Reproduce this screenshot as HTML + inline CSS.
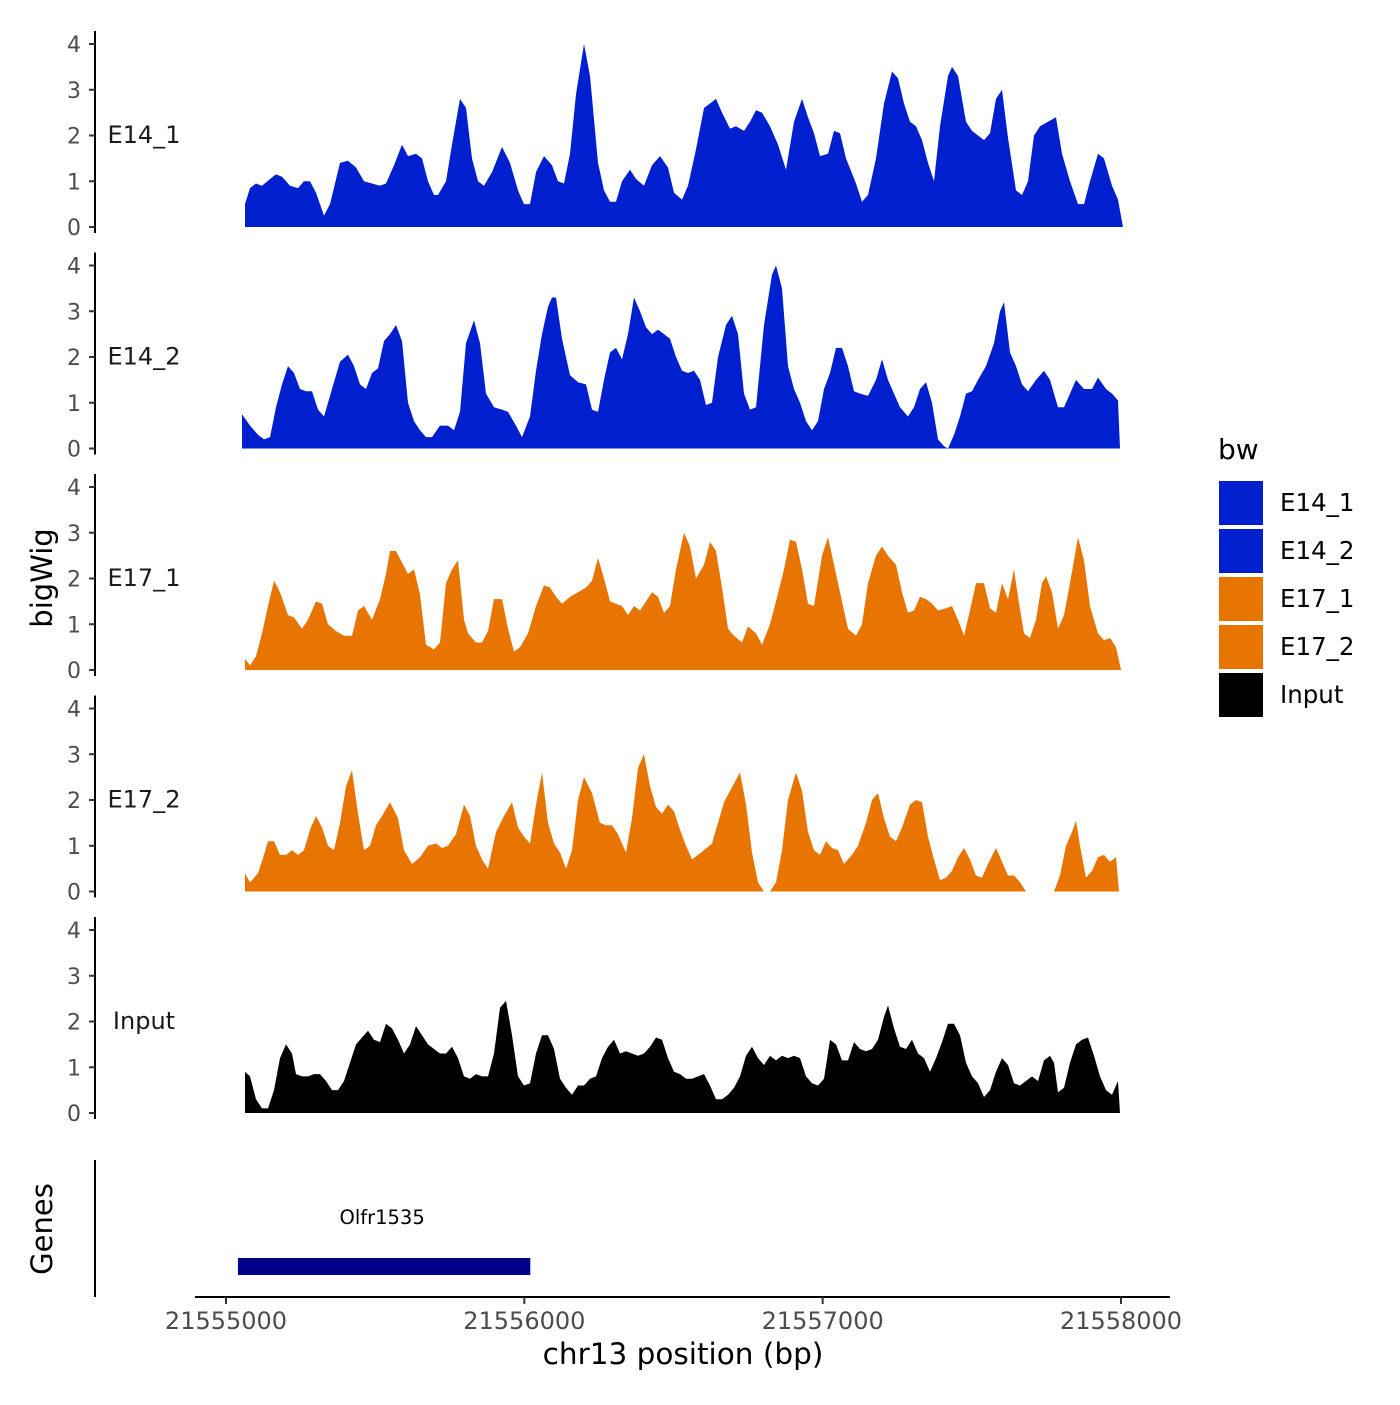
<!DOCTYPE html>
<html><head><meta charset="utf-8"><style>
html,body{margin:0;padding:0;background:#fff;}
svg text{font-family:"DejaVu Sans","Liberation Sans",sans-serif;}
</style></head><body>
<svg id="chart" width="1400" height="1400" viewBox="0 0 1400 1400" xmlns="http://www.w3.org/2000/svg">
<g id="tracks"></g>
<g id="genes">
  <line x1="95" y1="1160" x2="95" y2="1297" stroke="#000" stroke-width="2"/>
  <text transform="translate(52,1229) rotate(-90)" text-anchor="middle" font-size="29">Genes</text>
</g>
<g id="xaxis">
  <line x1="195" y1="1297" x2="1170" y2="1297" stroke="#000" stroke-width="2"/>
  <text x="683" y="1364" text-anchor="middle" font-size="29.5">chr13 position (bp)</text>
</g>
<text transform="translate(52,578) rotate(-90)" text-anchor="middle" font-size="29">bigWig</text>
<g id="legend">
  <text x="1218" y="459" font-size="28">bw</text>
</g>
</svg>
<script>
// region / scale constants
const regionStart = 21555000;
const binSize = 3000 / 895; // bp per bin
const xTickValues = [21555000, 21556000, 21557000, 21558000];
const xTickLabels = ["21555000", "21556000", "21557000", "21558000"];
const yTickValues = [0, 1, 2, 3, 4];
const yTickLabels = ["0", "1", "2", "3", "4"];
const trackNames = ["E14_1", "E14_2", "E17_1", "E17_2", "Input"];
const trackColors = ["#0020d0", "#0020d0", "#e87502", "#e87502", "#000000"];
const geneNames = ["Olfr1535"];
const geneStarts = [21555040];
const geneEnds = [21556020];

const e14_1Bins = [19,24,30,36,44,50,56,64,72,78,84,90,98,104,114,122,130,138,146,154,160,168,176,182,190,196,202,208,212,220,226,234,240,246,252,258,266,276,284,292,298,304,310,318,326,332,338,344,350,358,364,372,378,384,390,396,404,410,418,426,434,442,448,456,462,470,478,484,490,496,504,510,518,524,530,536,544,552,560,568,576,582,588,594,602,608,614,620,630,636,642,650,658,666,672,678,684,690,696,702,708,714,722,726,732,740,746,752,758,764,770,776,782,790,796,802,808,814,822,830,836,844,852,858,864,872,878,886,892,897];
const e14_1Vals = [0.5,0.85,0.95,0.9,1.05,1.15,1.1,0.9,0.85,1.0,1.0,0.75,0.25,0.5,1.4,1.45,1.3,1.0,0.95,0.9,0.95,1.35,1.8,1.55,1.6,1.5,1.0,0.7,0.7,1.0,1.8,2.8,2.6,1.5,1.0,0.9,1.2,1.75,1.4,0.8,0.5,0.5,1.2,1.55,1.35,1.0,0.95,1.6,2.9,4.0,3.3,1.4,0.8,0.55,0.55,1.0,1.25,1.05,0.9,1.35,1.55,1.3,0.75,0.6,0.9,1.7,2.6,2.7,2.8,2.5,2.15,2.2,2.1,2.3,2.55,2.5,2.2,1.8,1.25,2.3,2.8,2.4,2.05,1.55,1.6,2.1,2.05,1.5,0.95,0.55,0.7,1.5,2.7,3.4,3.25,2.7,2.3,2.2,1.9,1.4,1.0,2.2,3.3,3.5,3.3,2.3,2.1,2.0,1.9,2.05,2.8,3.0,1.95,0.8,0.7,1.0,2.0,2.2,2.3,2.4,1.6,1.0,0.5,0.5,1.0,1.6,1.5,0.9,0.6,0];

const e14_2Bins = [16,24,32,38,44,50,56,62,68,74,80,86,92,98,106,114,122,128,134,140,146,152,158,164,170,176,182,188,194,200,206,214,222,228,234,240,248,254,260,268,276,282,290,296,304,310,316,322,326,330,336,344,352,360,366,372,378,384,390,396,402,408,414,420,426,432,438,444,450,456,462,468,474,480,486,492,500,506,512,518,524,530,538,546,550,556,562,568,574,580,586,592,598,604,610,616,622,628,634,642,650,656,662,668,674,682,688,694,700,706,712,718,722,728,734,740,746,752,760,768,774,778,784,790,796,802,810,818,824,832,838,844,850,858,866,872,880,886,892,894];
const e14_2Vals = [0.75,0.5,0.3,0.2,0.25,0.9,1.4,1.8,1.65,1.3,1.25,1.25,0.85,0.7,1.3,1.9,2.05,1.8,1.4,1.3,1.65,1.75,2.35,2.5,2.7,2.35,1.0,0.6,0.4,0.25,0.25,0.5,0.5,0.4,0.8,2.3,2.8,2.3,1.2,0.9,0.85,0.8,0.5,0.25,0.7,1.7,2.5,3.1,3.3,3.3,2.4,1.6,1.45,1.4,0.85,0.8,1.5,2.1,2.2,1.95,2.5,3.3,3.0,2.65,2.5,2.6,2.5,2.4,2.0,1.7,1.65,1.7,1.5,0.95,1.0,2.0,2.7,2.9,2.5,1.2,0.85,0.9,2.7,3.8,4.0,3.5,1.8,1.3,1.0,0.6,0.4,0.6,1.3,1.65,2.2,2.2,1.8,1.25,1.2,1.15,1.5,1.95,1.5,1.2,0.9,0.7,0.9,1.3,1.45,1.0,0.2,0.05,0.0,0.3,0.7,1.2,1.25,1.5,1.8,2.3,3.0,3.2,2.1,1.8,1.4,1.25,1.5,1.7,1.5,0.9,0.9,1.2,1.5,1.3,1.3,1.55,1.3,1.2,1.05,0];

const e17_1Bins = [19,24,30,36,42,48,54,62,68,76,82,90,96,102,110,118,126,132,138,146,154,160,164,170,176,182,188,194,200,208,214,220,226,232,238,242,250,256,262,268,276,282,288,294,302,310,318,324,330,336,344,352,360,366,372,378,384,390,396,402,408,414,420,426,432,438,444,450,458,464,470,478,484,490,496,502,508,516,522,530,536,544,550,558,564,570,576,582,588,596,602,610,616,622,630,636,642,650,656,662,670,676,682,688,694,700,706,712,720,726,732,738,744,750,758,764,770,776,782,788,792,798,804,810,816,820,826,832,838,844,852,858,864,872,878,884,890,895];
const e17_1Vals = [0.25,0.1,0.3,0.8,1.4,1.95,1.7,1.2,1.15,0.9,1.1,1.5,1.45,1.0,0.85,0.75,0.75,1.3,1.4,1.1,1.55,2.1,2.6,2.6,2.35,2.1,2.2,1.65,0.55,0.45,0.6,1.9,2.2,2.4,1.1,0.8,0.6,0.6,0.85,1.55,1.55,0.9,0.4,0.5,0.8,1.4,1.85,1.8,1.6,1.45,1.6,1.7,1.8,1.95,2.45,2.0,1.5,1.45,1.4,1.2,1.4,1.3,1.5,1.7,1.6,1.25,1.4,2.2,3.0,2.7,2.0,2.3,2.8,2.6,1.8,0.9,0.75,0.6,0.95,0.8,0.55,1.0,1.5,2.2,2.85,2.8,2.2,1.45,1.4,2.5,2.9,2.1,1.5,0.9,0.75,1.0,1.9,2.5,2.7,2.5,2.3,1.7,1.25,1.3,1.6,1.55,1.45,1.3,1.35,1.4,1.1,0.75,1.3,1.9,1.9,1.35,1.25,1.9,1.55,2.2,1.6,0.8,0.7,1.1,1.9,2.05,1.7,0.9,1.2,1.9,2.9,2.4,1.4,0.8,0.65,0.7,0.5,0];

const e17_2Bins = [19,24,32,38,42,48,54,60,66,72,78,84,90,96,102,108,114,120,126,132,138,144,150,156,164,172,178,186,194,202,210,216,222,230,238,244,250,256,262,270,278,286,292,298,304,310,316,322,328,334,340,346,352,358,366,374,380,386,392,400,406,412,418,424,430,436,442,448,454,460,466,472,478,486,492,498,504,514,520,526,532,538,544,550,556,562,570,576,582,588,594,600,606,612,618,626,632,640,646,652,658,664,670,676,684,690,696,702,708,714,720,726,732,738,744,750,756,762,770,776,782,788,794,800,828,834,840,846,850,854,860,866,872,878,884,890,893];
const e17_2Vals = [0.4,0.2,0.4,0.8,1.1,1.1,0.8,0.8,0.9,0.8,0.9,1.35,1.65,1.4,1.0,0.9,1.5,2.3,2.65,1.7,0.9,1.0,1.45,1.65,1.95,1.6,0.9,0.6,0.75,1.0,1.05,0.95,1.0,1.25,1.9,1.65,1.0,0.7,0.5,1.3,1.65,1.95,1.4,1.2,1.05,1.9,2.6,1.5,1.05,0.85,0.5,0.9,2.0,2.5,2.15,1.5,1.45,1.45,1.25,0.85,1.6,2.7,3.0,2.3,1.85,1.7,1.9,1.75,1.35,1.0,0.7,0.8,0.9,1.05,1.5,1.95,2.2,2.6,1.9,0.85,0.2,0.0,0.0,0.2,0.9,2.0,2.6,2.2,1.3,0.9,0.8,1.1,0.95,0.9,0.6,0.8,1.0,1.5,2.0,2.15,1.6,1.2,1.1,1.4,1.9,2.0,1.95,1.2,0.7,0.25,0.3,0.45,0.75,0.95,0.7,0.35,0.3,0.6,0.95,0.65,0.35,0.35,0.2,0.0,0.0,0.35,1.0,1.3,1.55,1.0,0.3,0.45,0.75,0.8,0.65,0.75,0];

const inputBins = [19,24,30,36,42,48,54,60,66,70,76,82,88,94,100,106,112,118,124,130,136,142,148,154,160,166,172,178,184,190,196,202,208,214,220,226,232,238,244,250,256,262,268,274,280,286,292,298,304,310,316,322,328,334,340,346,352,358,364,370,376,382,388,394,400,406,412,418,424,430,436,442,448,454,460,466,472,478,484,490,496,502,508,514,520,526,532,538,544,550,556,562,568,574,580,586,592,598,604,610,616,622,628,634,640,646,652,658,662,668,674,680,686,692,698,704,710,716,722,728,734,740,746,752,758,764,770,776,782,788,794,800,806,812,818,824,828,832,838,844,850,856,862,868,874,880,886,892,894];
const inputVals = [0.9,0.8,0.3,0.1,0.1,0.5,1.2,1.5,1.3,0.85,0.8,0.8,0.85,0.85,0.7,0.5,0.5,0.7,1.1,1.5,1.65,1.8,1.6,1.55,1.95,1.85,1.6,1.3,1.5,1.9,1.7,1.5,1.4,1.3,1.3,1.45,1.2,0.8,0.75,0.85,0.8,0.8,1.3,2.3,2.45,1.7,0.8,0.6,0.65,1.3,1.7,1.7,1.4,0.75,0.55,0.4,0.6,0.6,0.75,0.8,1.2,1.45,1.6,1.3,1.35,1.3,1.25,1.3,1.45,1.65,1.6,1.2,0.9,0.85,0.75,0.75,0.8,0.85,0.6,0.3,0.3,0.4,0.55,0.8,1.25,1.45,1.2,1.05,1.25,1.15,1.25,1.2,1.25,1.2,0.8,0.65,0.6,0.75,1.6,1.5,1.15,1.15,1.55,1.4,1.35,1.4,1.6,2.1,2.35,1.85,1.45,1.4,1.6,1.3,1.2,0.9,1.2,1.55,1.95,1.95,1.7,1.1,0.8,0.65,0.35,0.5,0.9,1.2,1.05,0.65,0.6,0.7,0.8,0.7,1.15,1.25,1.1,0.45,0.55,1.1,1.5,1.6,1.65,1.25,0.8,0.5,0.4,0.7,0];

const trackBins = [e14_1Bins, e14_2Bins, e17_1Bins, e17_2Bins, inputBins];
const trackVals = [e14_1Vals, e14_2Vals, e17_1Vals, e17_2Vals, inputVals];

const NS = "http://www.w3.org/2000/svg";
function mk(tag, attrs, parent) {
  const e = document.createElementNS(NS, tag);
  for (const k in attrs) e.setAttribute(k, attrs[k]);
  parent.appendChild(e);
  return e;
}
function xScale(bp) { return 226 + (bp - 21555000) * (895 / 3000); }
function yScale(i, v) { return 227 + i * 221.5 - v * 45.75; }

const tracksG = document.getElementById("tracks");
trackNames.forEach((name, i) => {
  const g = mk("g", {}, tracksG);
  
  
  const bins = trackBins[i], vals = trackVals[i];
  let d = "M" + xScale(regionStart + bins[0] * binSize).toFixed(1) + "," + yScale(i, 0).toFixed(1);
  bins.forEach((b, j) => {
    d += " L" + xScale(regionStart + b * binSize).toFixed(1) + "," + yScale(i, vals[j]).toFixed(1);
  });
  d += " L" + xScale(regionStart + bins[bins.length - 1] * binSize).toFixed(1) + "," + yScale(i, 0).toFixed(1) + " Z";
  const p = mk("path", { d: d, fill: trackColors[i], stroke: "none" }, g);
  
  
  const top = 31 + i * 221.5, bot = 233 + i * 221.5;
  const ax = mk("line", { x1: 95, y1: top, x2: 95, y2: bot, stroke: "#000", "stroke-width": 2 }, g);
  
  
  yTickValues.forEach((v, k) => {
    const y = yScale(i, v);
    const t = mk("line", { x1: 89, y1: y, x2: 95, y2: y, stroke: "#333", "stroke-width": 2 }, g);
    
    
    const tl = mk("text", { x: 81, y: y + 8, "text-anchor": "end", "font-size": 22, fill: "#4d4d4d" }, g);
    tl.textContent = yTickLabels[k];
    
    
  });
  const lab = mk("text", { x: 144, y: 143 + i * 221.5, "text-anchor": "middle", "font-size": 24, fill: "#1a1a1a" }, g);
  lab.textContent = name;
  
  
});

const genesG = document.getElementById("genes");
geneNames.forEach((gname, i) => {
  const x1 = xScale(geneStarts[i]), x2 = xScale(geneEnds[i]);
  const r = mk("rect", { x: x1, y: 1258, width: x2 - x1, height: 17, fill: "#00008b" }, genesG);
  
  
  const t = mk("text", { x: (x1 + x2) / 2 - 2, y: 1224, "text-anchor": "middle", "font-size": 19.5, fill: "#000" }, genesG);
  t.textContent = gname;
  
  
});

const xG = document.getElementById("xaxis");
xTickValues.forEach((v, k) => {
  const x = xScale(v);
  const t = mk("line", { x1: x, y1: 1297, x2: x, y2: 1304, stroke: "#333", "stroke-width": 2 }, xG);
  
  
  const tl = mk("text", { x: x, y: 1329, "text-anchor": "middle", "font-size": 24, fill: "#4d4d4d" }, xG);
  tl.textContent = xTickLabels[k];
  
  
});

const legG = document.getElementById("legend");
trackNames.forEach((name, i) => {
  const y = 480 + i * 48;
  const r = mk("rect", { x: 1218, y: y, width: 46, height: 46, fill: trackColors[i], stroke: "#fff", "stroke-width": 2 }, legG);
  
  
  const t = mk("text", { x: 1280, y: y + 31, "font-size": 24.5, fill: "#000" }, legG);
  t.textContent = name;
  
  
});
</script>
</body></html>
